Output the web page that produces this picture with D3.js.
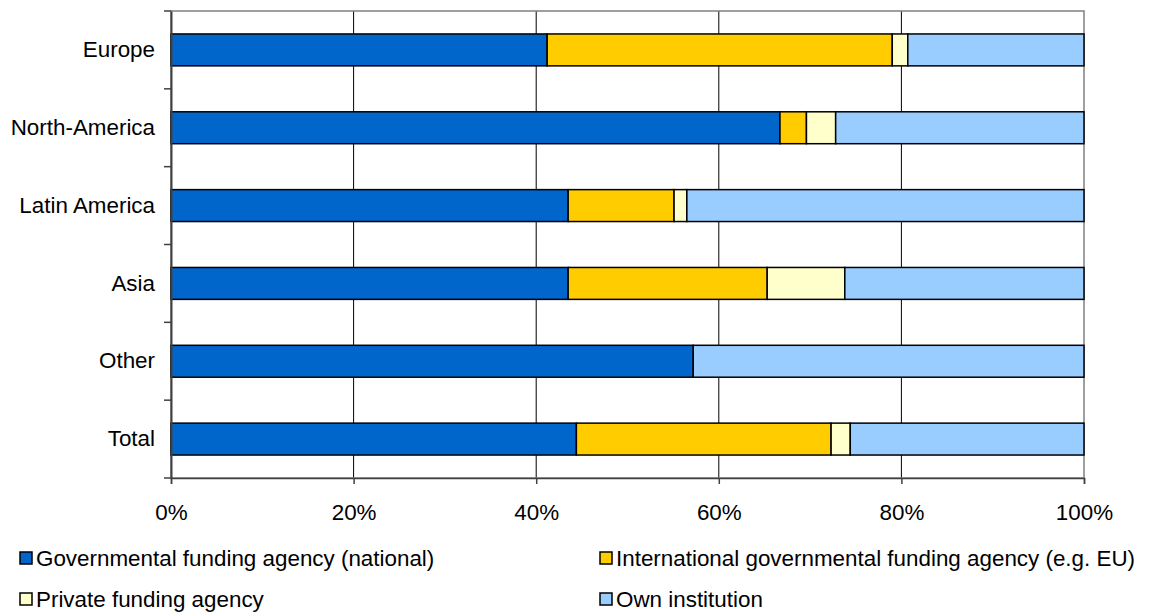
<!DOCTYPE html>
<html>
<head>
<meta charset="utf-8">
<script src="https://cdn.jsdelivr.net/npm/d3@7"></script>
<style>
  html, body { margin: 0; padding: 0; background: #fff; }
  svg { display: block; font-family: "Liberation Sans", Arial, sans-serif; }
</style>
</head>
<body>
<svg id="chart" width="1151" height="612"></svg>
<script>
// Funding sources by region, shares in percent (each row sums to 100)
const regions = ["Europe", "North-America", "Latin America", "Asia", "Other", "Total"];
const seriesNames = [
  "Governmental funding agency (national)",
  "International governmental funding agency (e.g. EU)",
  "Private funding agency",
  "Own institution"
];
const govNational   = [41.2, 66.7, 43.5, 43.5, 57.2, 44.4];
const govInternat   = [37.8,  2.9, 11.6, 21.8,  0.0, 27.9];
const privateAgency = [ 1.7,  3.2,  1.4,  8.5,  0.0,  2.1];
const ownInstitute  = [19.3, 27.2, 43.5, 26.2, 42.8, 25.6];
const xTicks = [0, 20, 40, 60, 80, 100];
const colors = ["#0066CC", "#FFCC00", "#FFFFCC", "#99CCFF"];

const keys = ["gov", "intl", "priv", "own"];
const rows = regions.map((r, i) => ({
  region: r,
  gov: govNational[i],
  intl: govInternat[i],
  priv: privateAgency[i],
  own: ownInstitute[i]
}));

const svg = d3.select("#chart");
const plot = { left: 171, right: 1084, top: 11, bottom: 478 };
const fontSize = 22.4;

const x = d3.scaleLinear().domain([0, 100]).range([plot.left, plot.right]);
const y = d3.scaleBand().domain(regions).range([plot.top, plot.bottom]).padding(0);
const barH = y.bandwidth() * 0.41;

// vertical gridlines
svg.append("g")
  .selectAll("line")
  .data(xTicks.slice(1, -1))
  .join("line")
  .attr("x1", d => x(d)).attr("x2", d => x(d))
  .attr("y1", plot.top).attr("y2", plot.bottom)
  .attr("stroke", "#000").attr("stroke-width", 1);

// plot frame
svg.append("rect")
  .attr("x", plot.left).attr("y", plot.top)
  .attr("width", plot.right - plot.left).attr("height", plot.bottom - plot.top)
  .attr("fill", "none").attr("stroke", "#808080").attr("stroke-width", 1.5);

// stacked bars
const stacked = d3.stack().keys(keys)(rows);
svg.append("g")
  .selectAll("g")
  .data(stacked)
  .join("g")
  .attr("fill", (d, i) => colors[i])
  .selectAll("rect")
  .data(d => d.filter(s => s[1] - s[0] > 0))
  .join("rect")
  .attr("x", d => x(d[0]))
  .attr("width", d => x(d[1]) - x(d[0]))
  .attr("y", d => y(d.data.region) + (y.bandwidth() - barH) / 2)
  .attr("height", barH)
  .attr("stroke", "#000")
  .attr("stroke-width", 1.5);

// y axis: line, category labels, ticks between categories
const yAxis = d3.axisLeft(y).tickSize(0).tickPadding(16);
const gy = svg.append("g").attr("transform", `translate(${plot.left},0)`).call(yAxis);
gy.select(".domain").attr("stroke", "#404040").attr("stroke-width", 2);
gy.selectAll("text")
  .attr("font-size", fontSize)
  .attr("fill", "#000")
  .attr("font-family", "Liberation Sans, Arial, sans-serif");

const bounds = regions.map(r => y(r)).concat([plot.bottom]);
svg.append("g")
  .selectAll("line")
  .data(bounds)
  .join("line")
  .attr("x1", plot.left - 7).attr("x2", plot.left)
  .attr("y1", d => d).attr("y2", d => d)
  .attr("stroke", "#404040").attr("stroke-width", 1.5);

// x axis
const xAxis = d3.axisBottom(x).tickValues(xTicks).tickFormat(d => d + "%").tickSize(6).tickPadding(20);
const gx = svg.append("g").attr("transform", `translate(0,${plot.bottom})`).call(xAxis);
gx.select(".domain").attr("stroke", "#404040").attr("stroke-width", 1.5);
gx.selectAll(".tick line").attr("stroke", "#404040").attr("stroke-width", 1.5);
gx.selectAll("text")
  .attr("font-size", fontSize)
  .attr("fill", "#000")
  .attr("font-family", "Liberation Sans, Arial, sans-serif");

// legend: two columns, two rows
const legendPos = [
  { x: 20, y: 558 }, { x: 600, y: 558 },
  { x: 20, y: 599 }, { x: 600, y: 599 }
];
const lg = svg.append("g")
  .selectAll("g")
  .data(seriesNames)
  .join("g")
  .attr("transform", (d, i) => `translate(${legendPos[i].x},${legendPos[i].y})`);
lg.append("rect")
  .attr("x", 0).attr("y", -6).attr("width", 12).attr("height", 12)
  .attr("fill", (d, i) => colors[i])
  .attr("stroke", "#000").attr("stroke-width", 1.5);
lg.append("text")
  .attr("x", 16).attr("y", 0).attr("dy", "0.36em")
  .attr("font-size", fontSize)
  .attr("fill", "#000")
  .text(d => d);
</script>
</body>
</html>
